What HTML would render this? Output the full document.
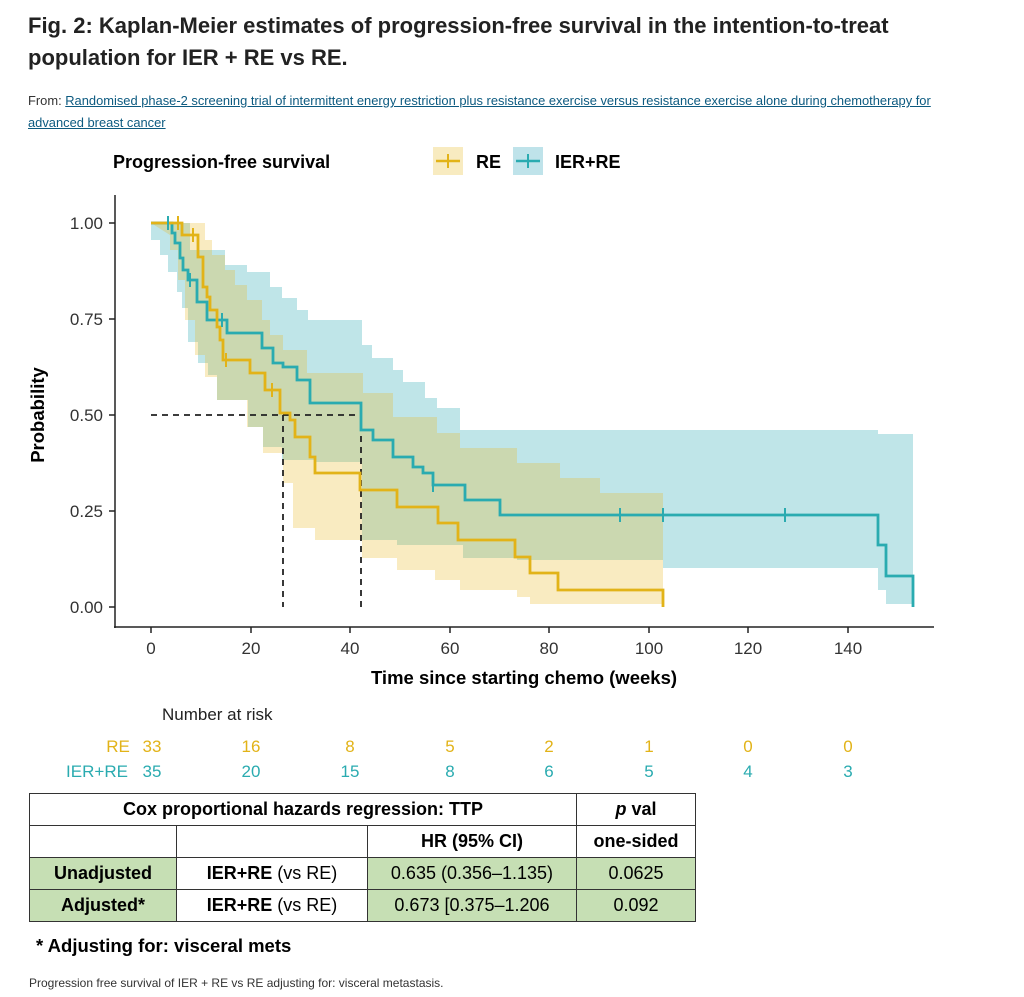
<!DOCTYPE html>
<html><head><style>
body{margin:0;background:#fff;font-family:"Liberation Sans",sans-serif;}
.t{position:absolute;left:28px;top:10px;font-size:22px;font-weight:bold;line-height:32px;color:#222;}
.f{position:absolute;left:28px;top:90px;font-size:12.9px;line-height:22px;color:#333;}
.f a{color:#0c5a80;text-decoration:underline;}
table{position:absolute;left:29px;top:793px;border-collapse:collapse;font-size:18px;}
td{border:1.5px solid #333;text-align:center;padding:0;height:31px;}
.g{background:#c6dfb4;}
</style></head><body>
<div class="t">Fig. 2: Kaplan-Meier estimates of progression-free survival in the intention-to-treat<br>population for IER + RE vs RE.</div>
<div class="f">From: <a>Randomised phase-2 screening trial of intermittent energy restriction plus resistance exercise versus resistance exercise alone during chemotherapy for<br>advanced breast cancer</a></div>
<svg width="1024" height="997" style="position:absolute;left:0;top:0" font-family="Liberation Sans, sans-serif">
<text x="113" y="168" font-size="18" font-weight="bold">Progression-free survival</text>
<rect x="433" y="147" width="30" height="28" fill="#f8ebc0"/><line x1="436" y1="161" x2="460" y2="161" stroke="#e2b318" stroke-width="2.5"/><line x1="448" y1="154" x2="448" y2="168" stroke="#e2b318" stroke-width="2"/>
<text x="476" y="168" font-size="18" font-weight="bold">RE</text>
<rect x="513" y="147" width="30" height="28" fill="#bfe3ea"/><line x1="516" y1="161" x2="540" y2="161" stroke="#2aabb0" stroke-width="2.5"/><line x1="528" y1="154" x2="528" y2="168" stroke="#2aabb0" stroke-width="2"/>
<text x="555" y="168" font-size="18" font-weight="bold">IER+RE</text>
<path fill="#2aaab4" fill-opacity="0.3" d="M151,223 L190,223 L190,250 L225,250 L225,265 L247,265 L247,272 L270,272 L270,287 L282,287 L282,298 L297,298 L297,310 L308,310 L308,320 L362,320 L362,345 L372,345 L372,358 L393,358 L393,370 L403,370 L403,382 L425,382 L425,398 L437,398 L437,408 L460,408 L460,430 L878,430 L878,434 L913,434 L913,604 L886,604 L886,590 L878,590 L878,568 L663,568 L663,560 L517,560 L517,558 L463,558 L463,545 L397,545 L397,540 L362,540 L362,462 L315,462 L315,460 L282,460 L282,447 L263,447 L263,427 L248,427 L248,400 L217,400 L217,375 L208,375 L208,363 L198,363 L198,342 L188,342 L188,308 L182,308 L182,292 L177,292 L177,272 L168,272 L168,255 L160,255 L160,240 L151,240 Z"/>
<path fill="#e8b820" fill-opacity="0.28" d="M151,223 L205,223 L205,240 L212,240 L212,255 L225,255 L225,270 L235,270 L235,285 L247,285 L247,300 L262,300 L262,320 L270,320 L270,335 L283,335 L283,350 L307,350 L307,373 L363,373 L363,393 L393,393 L393,417 L437,417 L437,433 L460,433 L460,448 L517,448 L517,463 L560,463 L560,478 L600,478 L600,493 L663,493 L663,604 L530,604 L530,597 L517,597 L517,590 L460,590 L460,580 L435,580 L435,570 L397,570 L397,558 L362,558 L362,540 L315,540 L315,528 L293,528 L293,483 L283,483 L283,453 L263,453 L263,427 L247,427 L247,400 L217,400 L217,377 L205,377 L205,355 L195,355 L195,320 L185,320 L185,280 L178,280 L178,250 L170,250 L170,235 Z"/>
<line x1="115" y1="195" x2="115" y2="628" stroke="#222" stroke-width="1.5"/>
<line x1="114" y1="627" x2="934" y2="627" stroke="#222" stroke-width="1.5"/>
<g stroke="#222" stroke-width="1.5">
<line x1="109" y1="223" x2="115" y2="223"/><line x1="109" y1="319" x2="115" y2="319"/><line x1="109" y1="415" x2="115" y2="415"/><line x1="109" y1="511" x2="115" y2="511"/><line x1="109" y1="607" x2="115" y2="607"/>
<line x1="151" y1="627" x2="151" y2="633"/><line x1="251" y1="627" x2="251" y2="633"/><line x1="350" y1="627" x2="350" y2="633"/><line x1="450" y1="627" x2="450" y2="633"/><line x1="549" y1="627" x2="549" y2="633"/><line x1="649" y1="627" x2="649" y2="633"/><line x1="748" y1="627" x2="748" y2="633"/><line x1="848" y1="627" x2="848" y2="633"/>
</g>
<g font-size="17" fill="#333" text-anchor="end">
<text x="103" y="229">1.00</text><text x="103" y="325">0.75</text><text x="103" y="421">0.50</text><text x="103" y="517">0.25</text><text x="103" y="613">0.00</text></g>
<g font-size="17" fill="#333" text-anchor="middle">
<text x="151" y="654">0</text><text x="251" y="654">20</text><text x="350" y="654">40</text><text x="450" y="654">60</text><text x="549" y="654">80</text><text x="649" y="654">100</text><text x="748" y="654">120</text><text x="848" y="654">140</text></g>
<text x="524" y="684" font-size="18.5" font-weight="bold" text-anchor="middle">Time since starting chemo (weeks)</text>
<text transform="translate(44,415) rotate(-90)" font-size="18.5" font-weight="bold" text-anchor="middle">Probability</text>
<g stroke="#222" stroke-width="1.8" stroke-dasharray="6,5" fill="none">
<path d="M151,415 L361,415 L361,607"/><path d="M283,415 L283,607"/></g>
<path fill="none" stroke="#2aabb0" stroke-width="2.8" d="M151,223 L172,223 L172,233 L175,233 L175,243 L180,243 L180,258 L183,258 L183,270 L188,270 L188,280 L197,280 L197,302 L207,302 L207,320 L227,320 L227,333 L262,333 L262,348 L273,348 L273,363 L283,363 L283,367 L297,367 L297,380 L310,380 L310,403 L361,403 L361,430 L373,430 L373,440 L393,440 L393,457 L413,457 L413,467 L423,467 L423,473 L433,473 L433,485 L465,485 L465,500 L500,500 L500,515 L878,515 L878,545 L886,545 L886,576 L913,576 L913,607"/>
<path fill="none" stroke="#e2b318" stroke-width="2.8" d="M151,223 L182,223 L182,235 L198,235 L198,257 L203,257 L203,287 L207,287 L207,297 L210,297 L210,310 L217,310 L217,327 L220,327 L220,340 L223,340 L223,360 L250,360 L250,373 L265,373 L265,390 L280,390 L280,413 L290,413 L290,420 L295,420 L295,437 L310,437 L310,457 L315,457 L315,473 L360,473 L360,490 L397,490 L397,507 L438,507 L438,523 L458,523 L458,540 L515,540 L515,557 L530,557 L530,573 L558,573 L558,590 L663,590 L663,607"/>
<g stroke="#2aabb0" stroke-width="2"><line x1="168" y1="216" x2="168" y2="230"/><line x1="190" y1="273" x2="190" y2="287"/><line x1="222" y1="313" x2="222" y2="327"/><line x1="433" y1="478" x2="433" y2="492"/><line x1="620" y1="508" x2="620" y2="522"/><line x1="663" y1="508" x2="663" y2="522"/><line x1="785" y1="508" x2="785" y2="522"/></g>
<g stroke="#e2b318" stroke-width="2"><line x1="178" y1="216" x2="178" y2="230"/><line x1="193" y1="228" x2="193" y2="242"/><line x1="226" y1="353" x2="226" y2="367"/><line x1="272" y1="383" x2="272" y2="397"/></g>
<text x="162" y="720" font-size="17" fill="#222">Number at risk</text>
<g font-size="17" fill="#e2b318" text-anchor="middle"><text x="118" y="752">RE</text><text x="152" y="752">33</text><text x="251" y="752">16</text><text x="350" y="752">8</text><text x="450" y="752">5</text><text x="549" y="752">2</text><text x="649" y="752">1</text><text x="748" y="752">0</text><text x="848" y="752">0</text></g>
<g font-size="17" fill="#2aabb0" text-anchor="middle"><text x="97" y="777">IER+RE</text><text x="152" y="777">35</text><text x="251" y="777">20</text><text x="350" y="777">15</text><text x="450" y="777">8</text><text x="549" y="777">6</text><text x="649" y="777">5</text><text x="748" y="777">4</text><text x="848" y="777">3</text></g>
<text x="36" y="952" font-size="18.5" font-weight="bold">* Adjusting for: visceral mets</text>
<text x="29" y="987" font-size="12" fill="#333">Progression free survival of IER + RE vs RE adjusting for: visceral metastasis.</text>
</svg>
<table>
<tr><td colspan="3" style="width:546px;font-weight:bold">Cox proportional hazards regression: TTP</td><td style="width:118px;font-weight:bold"><i>p</i> val</td></tr>
<tr><td style="width:146px"></td><td style="width:190px"></td><td style="width:208px;font-weight:bold">HR (95% CI)</td><td style="font-weight:bold">one-sided</td></tr>
<tr><td class="g" style="font-weight:bold">Unadjusted</td><td><b>IER+RE</b> (vs RE)</td><td class="g">0.635 (0.356–1.135)</td><td class="g">0.0625</td></tr>
<tr><td class="g" style="font-weight:bold">Adjusted*</td><td><b>IER+RE</b> (vs RE)</td><td class="g">0.673 [0.375–1.206</td><td class="g">0.092</td></tr>
</table>
</body></html>
